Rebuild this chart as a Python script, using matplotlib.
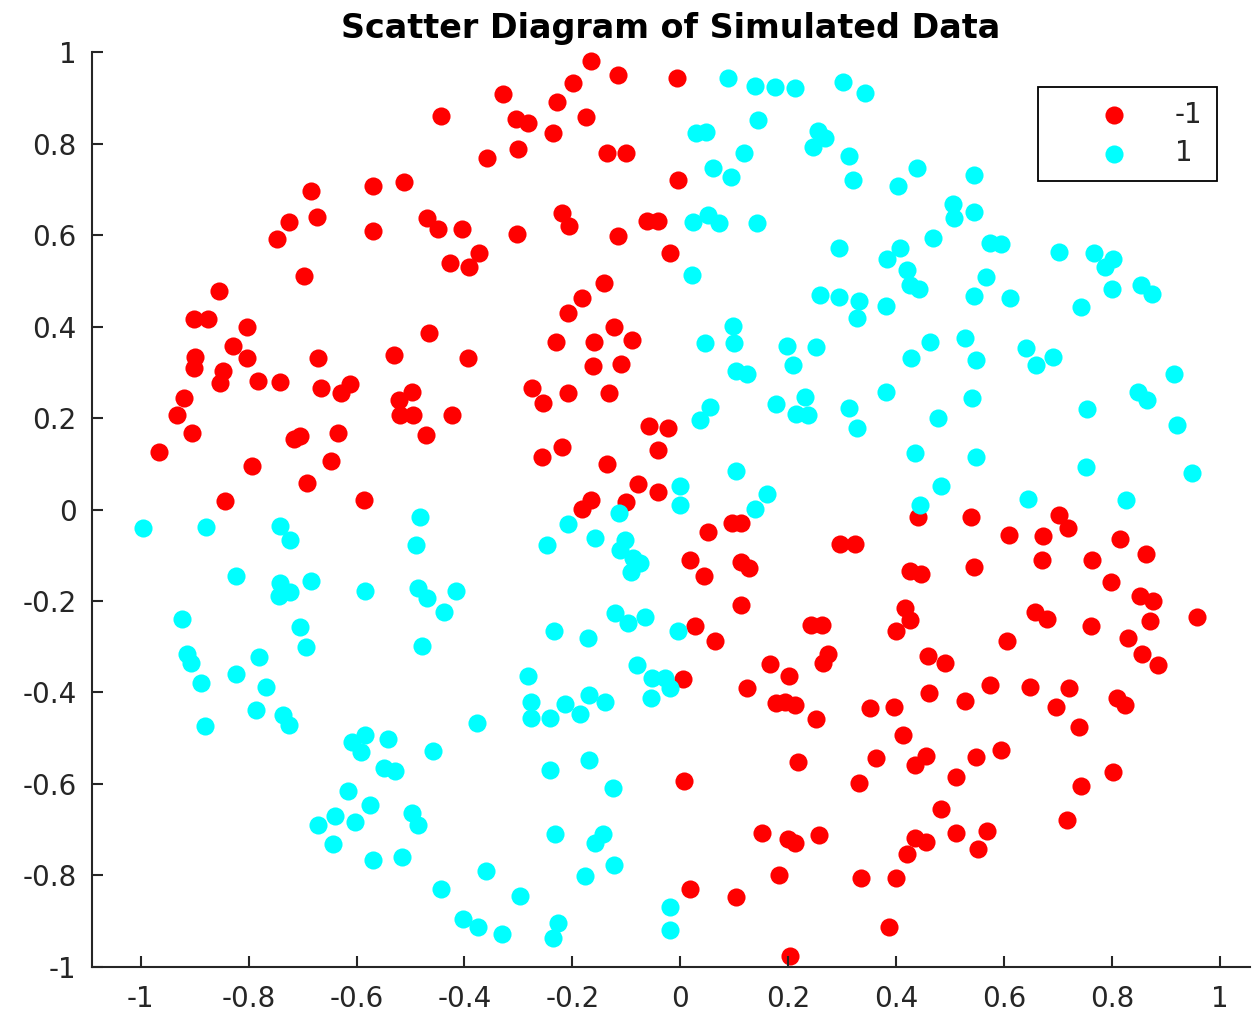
import matplotlib.pyplot as plt
import matplotlib as mpl

mpl.rcParams['font.family'] = ['DejaVu Sans']
mpl.rcParams['axes.unicode_minus'] = False

# class -1 (red)
red_x = [-0.685, -0.725, -0.674, -0.747, -0.570, -0.570, -0.698, -0.855, -0.901, -0.876,
         -0.803, -0.829, -0.166, -0.115, -0.006, -0.199, -0.328, -0.229, -0.443, -0.304,
         -0.283, -0.174, -0.236, -0.359, -0.301, -0.135, -0.100, -0.004, -0.513, -0.470,
         -0.449, -0.404, -0.302, -0.219, -0.206, -0.061, -0.041, -0.115, -0.019, -0.427,
         -0.391, -0.373, -0.141, -0.183, -0.209, -0.123, -0.089, -0.160, -0.231, -0.466,
         -0.900, -0.901, -0.804, -0.847, -0.854, -0.783, -0.742, -0.671, -0.666, -0.628,
         -0.613, -0.920, -0.932, -0.905, -0.966, -0.793, -0.716, -0.704, -0.634, -0.647,
         -0.691, -0.844, -0.586, -0.531, -0.394, -0.162, -0.109, -0.274, -0.255, -0.209,
         -0.133, -0.497, -0.521, -0.520, -0.496, -0.423, -0.472, -0.058, -0.023, -0.041,
         -0.220, -0.256, -0.135, -0.079, -0.041, -0.100, -0.165, -0.182, 0.096, 0.113,
         0.052, 0.018, 0.044, 0.112, 0.128, 0.296, 0.323, 0.441, 0.538, 0.425,
         0.447, 0.544, 0.113, 0.027, 0.064, 0.243, 0.262, 0.417, 0.425, 0.399,
         0.265, 0.274, 0.459, 0.490, 0.702, 0.719, 0.609, 0.672, 0.816, 0.863,
         0.671, 0.763, 0.799, 0.852, 0.876, 0.870, 0.958, 0.657, 0.680, 0.762,
         0.605, 0.830, 0.855, 0.886, 0.005, 0.123, 0.167, 0.202, 0.178, 0.194,
         0.212, 0.252, 0.351, 0.396, 0.461, 0.527, 0.413, 0.362, 0.435, 0.456,
         0.331, 0.218, 0.006, 0.512, 0.484, 0.512, 0.152, 0.200, 0.212, 0.257,
         0.435, 0.456, 0.420, 0.183, 0.335, 0.399, 0.018, 0.104, 0.386, 0.204,
         0.574, 0.648, 0.721, 0.697, 0.739, 0.809, 0.824, 0.595, 0.549, 0.802,
         0.742, 0.717, 0.568, 0.552]
red_y = [0.697, 0.629, 0.639, 0.592, 0.708, 0.610, 0.511, 0.479, 0.417, 0.417,
         0.400, 0.358, 0.980, 0.950, 0.943, 0.932, 0.908, 0.891, 0.861, 0.854,
         0.846, 0.858, 0.823, 0.768, 0.788, 0.779, 0.779, 0.721, 0.717, 0.637,
         0.613, 0.613, 0.602, 0.648, 0.621, 0.632, 0.632, 0.598, 0.561, 0.540,
         0.531, 0.560, 0.496, 0.463, 0.429, 0.400, 0.371, 0.367, 0.367, 0.387,
         0.334, 0.310, 0.332, 0.303, 0.276, 0.281, 0.280, 0.332, 0.265, 0.254,
         0.274, 0.245, 0.207, 0.167, 0.125, 0.096, 0.154, 0.161, 0.167, 0.106,
         0.059, 0.019, 0.021, 0.338, 0.332, 0.315, 0.318, 0.266, 0.234, 0.255,
         0.254, 0.258, 0.240, 0.207, 0.207, 0.207, 0.164, 0.183, 0.178, 0.130,
         0.137, 0.115, 0.099, 0.055, 0.038, 0.017, 0.021, 0.001, -0.029, -0.029,
         -0.050, -0.110, -0.145, -0.114, -0.127, -0.075, -0.075, -0.016, -0.016, -0.134,
         -0.142, -0.125, -0.209, -0.255, -0.288, -0.253, -0.253, -0.216, -0.242, -0.265,
         -0.336, -0.316, -0.320, -0.335, -0.012, -0.040, -0.056, -0.058, -0.065, -0.098,
         -0.110, -0.110, -0.158, -0.189, -0.199, -0.243, -0.234, -0.224, -0.240, -0.254,
         -0.288, -0.280, -0.316, -0.340, -0.371, -0.391, -0.338, -0.364, -0.424, -0.420,
         -0.428, -0.458, -0.435, -0.433, -0.402, -0.418, -0.493, -0.544, -0.559, -0.539,
         -0.599, -0.552, -0.594, -0.584, -0.654, -0.708, -0.708, -0.721, -0.730, -0.712,
         -0.719, -0.727, -0.754, -0.799, -0.807, -0.807, -0.829, -0.848, -0.913, -0.977,
         -0.384, -0.388, -0.391, -0.431, -0.476, -0.413, -0.428, -0.526, -0.542, -0.575,
         -0.605, -0.679, -0.703, -0.743]

# class 1 (cyan)
cyan_x = [0.089, 0.138, 0.175, 0.212, 0.302, 0.342, 0.144, 0.030, 0.047, 0.255,
          0.268, 0.246, 0.312, 0.118, 0.060, 0.094, 0.320, 0.438, 0.403, 0.024,
          0.052, 0.072, 0.142, 0.505, 0.508, 0.469, 0.294, 0.407, 0.383, 0.420,
          0.425, 0.443, 0.021, 0.259, 0.294, 0.331, 0.327, 0.381, 0.098, 0.100,
          0.045, 0.462, 0.527, 0.544, 0.544, 0.574, 0.595, 0.702, 0.767, 0.802,
          0.787, 0.566, 0.544, 0.611, 0.801, 0.854, 0.875, 0.742, 0.197, 0.251,
          0.209, 0.427, 0.104, 0.124, 0.056, 0.036, 0.178, 0.231, 0.215, 0.237,
          0.312, 0.327, 0.381, 0.478, 0.540, 0.436, 0.484, 0.445, 0.104, 0.000,
          -0.001, 0.161, 0.139, -0.004, 0.548, 0.640, 0.659, 0.691, 0.915, 0.849,
          0.865, 0.753, 0.920, 0.549, 0.752, 0.949, 0.645, 0.827, -0.996, -0.880,
          -0.742, -0.724, -0.824, -0.742, -0.724, -0.744, -0.685, -0.584, -0.923, -0.705,
          -0.693, -0.915, -0.906, -0.889, -0.881, -0.824, -0.781, -0.767, -0.786, -0.737,
          -0.726, -0.609, -0.585, -0.591, -0.542, -0.550, -0.529, -0.616, -0.576, -0.640,
          -0.671, -0.602, -0.644, -0.569, -0.458, -0.376, -0.282, -0.276, -0.276, -0.241,
          -0.214, -0.186, -0.169, -0.139, -0.080, -0.052, -0.029, -0.019, -0.055, -0.497,
          -0.486, -0.516, -0.242, -0.169, -0.125, -0.233, -0.143, -0.158, -0.123, -0.176,
          -0.361, -0.444, -0.298, -0.403, -0.375, -0.330, -0.227, -0.236, -0.019, -0.019,
          -0.483, -0.490, -0.113, -0.209, -0.247, -0.158, -0.103, -0.112, -0.087, -0.075,
          -0.092, -0.486, -0.470, -0.416, -0.438, -0.479, -0.234, -0.171, -0.121, -0.097,
          -0.066]
cyan_y = [0.943, 0.927, 0.925, 0.923, 0.934, 0.912, 0.852, 0.823, 0.826, 0.829,
          0.812, 0.794, 0.773, 0.779, 0.746, 0.728, 0.721, 0.748, 0.708, 0.629,
          0.644, 0.626, 0.627, 0.668, 0.637, 0.594, 0.571, 0.571, 0.548, 0.524,
          0.491, 0.482, 0.513, 0.469, 0.464, 0.455, 0.418, 0.446, 0.401, 0.365,
          0.364, 0.367, 0.376, 0.732, 0.650, 0.584, 0.580, 0.563, 0.560, 0.549,
          0.531, 0.508, 0.467, 0.462, 0.482, 0.490, 0.471, 0.444, 0.358, 0.355,
          0.316, 0.332, 0.303, 0.296, 0.225, 0.196, 0.230, 0.247, 0.210, 0.207,
          0.221, 0.178, 0.256, 0.201, 0.243, 0.123, 0.052, 0.010, 0.084, 0.052,
          0.010, 0.034, 0.001, -0.265, 0.327, 0.353, 0.316, 0.333, 0.296, 0.258,
          0.240, 0.220, 0.185, 0.114, 0.094, 0.079, 0.022, 0.021, -0.041, -0.039,
          -0.035, -0.067, -0.145, -0.161, -0.180, -0.189, -0.156, -0.178, -0.240, -0.258,
          -0.300, -0.315, -0.336, -0.380, -0.473, -0.360, -0.322, -0.388, -0.439, -0.449,
          -0.471, -0.508, -0.493, -0.530, -0.502, -0.566, -0.573, -0.615, -0.646, -0.670,
          -0.690, -0.684, -0.732, -0.767, -0.528, -0.466, -0.364, -0.420, -0.457, -0.457,
          -0.425, -0.447, -0.406, -0.420, -0.340, -0.369, -0.369, -0.391, -0.412, -0.664,
          -0.690, -0.761, -0.570, -0.548, -0.610, -0.710, -0.710, -0.730, -0.778, -0.802,
          -0.791, -0.831, -0.845, -0.896, -0.913, -0.929, -0.904, -0.938, -0.869, -0.920,
          -0.017, -0.078, -0.008, -0.032, -0.078, -0.062, -0.067, -0.089, -0.107, -0.118,
          -0.136, -0.172, -0.194, -0.178, -0.224, -0.299, -0.265, -0.280, -0.227, -0.249,
          -0.234]

xticks = [-1, -0.8, -0.6, -0.4, -0.2, 0, 0.2, 0.4, 0.6, 0.8, 1]
xtick_labels = ['-1', '-0.8', '-0.6', '-0.4', '-0.2', '0', '0.2', '0.4', '0.6', '0.8', '1']
yticks = [-1, -0.8, -0.6, -0.4, -0.2, 0, 0.2, 0.4, 0.6, 0.8, 1]
ytick_labels = ['-1', '-0.8', '-0.6', '-0.4', '-0.2', '0', '0.2', '0.4', '0.6', '0.8', '1']

dark = '#262626'

fig = plt.figure(figsize=(12.56, 10.16), dpi=100)
ax = fig.add_axes([0.0730, 0.0485, 0.9222, 0.9000])

ax.scatter(red_x, red_y, s=170, c='#ff0000', linewidths=0, label='-1')
ax.scatter(cyan_x, cyan_y, s=170, c='#00ffff', linewidths=0, label='1')

ax.set_xlim(-1.091, 1.056)
ax.set_ylim(-1, 1)
ax.set_xticks(xticks)
ax.set_xticklabels(xtick_labels)
ax.set_yticks(yticks)
ax.set_yticklabels(ytick_labels)

for side in ('top', 'right'):
    ax.spines[side].set_visible(False)
for side in ('left', 'bottom'):
    ax.spines[side].set_color(dark)
    ax.spines[side].set_linewidth(1.5)
ax.tick_params(axis='both', direction='in', length=8, width=1.5, color=dark,
               labelcolor=dark, labelsize=20)
ax.tick_params(axis='x', pad=13)
ax.tick_params(axis='y', pad=11)

ax.set_title('Scatter Diagram of Simulated Data', fontsize=24, fontweight='bold',
             color='black', pad=10)

leg = ax.legend(loc='upper right', bbox_to_anchor=(0.9712, 0.9624), borderaxespad=0,
                fontsize=20, scatterpoints=1, handlelength=4.5, handletextpad=-0.05,
                borderpad=0.5, labelspacing=0.38, fancybox=False, framealpha=1)
leg.get_frame().set_edgecolor('black')
leg.get_frame().set_linewidth(1.3)
for t in leg.get_texts():
    t.set_color(dark)

fig.savefig('out.png', dpi=100)
